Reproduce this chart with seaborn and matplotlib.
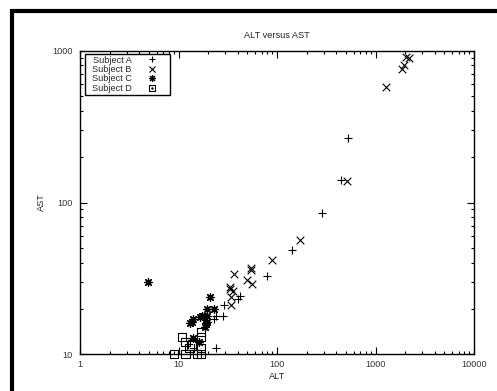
import pandas as pd
import matplotlib
matplotlib.use("Agg")
import matplotlib.pyplot as plt
import seaborn as sns
from matplotlib.patches import Rectangle
from matplotlib.legend_handler import HandlerTuple
from matplotlib.lines import Line2D

# values
a_alt = [522, 443, 284, 141, 80, 42, 40.5, 29, 28, 24, 23, 24, 16]
a_ast = [267, 141, 85, 49, 33, 24.2, 23.1, 21, 18, 18, 17, 11, 12]

b_alt = [2200, 2050, 1950, 1850, 1290, 510, 172, 89, 55, 54, 56, 50, 37, 36, 34, 34, 33, 33]
b_ast = [900, 910, 810, 760, 575, 139, 57, 42, 37, 36, 29, 31, 34, 26, 24, 21, 27.6, 26.8]

c_alt = [4.9, 20.7, 19.6, 22.8, 17.2, 18.2, 19.3, 16.5, 19.5, 19.0, 18.4, 13.9, 13.6, 13.1, 13.9, 16]
c_ast = [30, 24, 20, 20, 18, 18, 18, 17.5, 16.4, 16, 15.2, 17, 16.3, 16, 12.9, 12]

d_alt = [9, 11.8, 15.5, 16.8, 10.8, 11.8, 13.6, 13.9, 12.9, 16.9, 16.9, 16.9]
d_ast = [10, 10, 10, 10, 13, 12, 11.4, 11.7, 11, 14, 13, 11]

x_ticks = [1, 10, 100, 1000, 10000]
y_ticks = [10, 100, 1000]

sns.set_style("ticks")
plt.rcParams["font.family"] = ["Liberation Sans", "DejaVu Sans"]
plt.rcParams["font.size"] = 6.6
plt.rcParams["axes.linewidth"] = 1.0

fig = plt.figure(figsize=(4.97, 3.91), dpi=100)
ax = fig.add_axes([80 / 497, 1 - 354.3 / 391, 394 / 497, 303.6 / 391])

# outer frame (only left and top edges visible)
fig.patches.append(Rectangle((11.5 / 497, -0.2), 1.5, 1.2 - 11.5 / 391,
                             transform=fig.transFigure, fill=False,
                             edgecolor="black", linewidth=3))

ms = 30
sns.scatterplot(x=a_alt, y=a_ast, marker="+", color="black", s=ms, linewidth=0.8, ax=ax, clip_on=False)
sns.scatterplot(x=b_alt, y=b_ast, marker="x", color="black", s=ms, linewidth=0.8, ax=ax, clip_on=False)
sns.scatterplot(x=c_alt, y=c_ast, marker=(8, 2, 0), color="black", s=ms, linewidth=0.9, ax=ax, clip_on=False)
sns.scatterplot(x=d_alt, y=d_ast, marker="s", s=36, facecolor="none", edgecolor="black",
                linewidth=0.8, ax=ax, clip_on=False)
sns.scatterplot(x=d_alt, y=d_ast, marker=".", s=2, color="black", linewidth=0, ax=ax, clip_on=False)

ax.set_xscale("log")
ax.set_yscale("log")
ax.set_xlim(1, 10000)
ax.set_ylim(10, 1000)
ax.set_xticks(x_ticks, [str(v) for v in x_ticks])
ax.set_yticks(y_ticks, [str(v) for v in y_ticks])
ax.tick_params(which="both", direction="in", top=True, right=True, colors="black",
               labelcolor="#333333", width=0.8)
ax.tick_params(which="major", length=5, pad=5)
ax.tick_params(axis="x", which="major", pad=4)
ax.tick_params(which="minor", length=2.5)
for s in ax.spines.values():
    s.set_visible(True)
    s.set_color("black")

ax.set_title("ALT versus AST", fontsize=6.6, pad=9, color="#222222")
ax.set_xlabel("ALT", fontsize=6.6, labelpad=2, color="#222222")
ax.set_ylabel("AST", fontsize=6.6, labelpad=5, color="#222222")

mk = dict(color="black", linestyle="none", markersize=5, markeredgewidth=0.8)
h_a = Line2D([], [], marker="+", **mk)
h_b = Line2D([], [], marker="x", **mk)
h_c = Line2D([], [], marker=(8, 2, 0), **mk)
h_d1 = Line2D([], [], marker="s", markerfacecolor="none", markeredgecolor="black",
              linestyle="none", markersize=5, markeredgewidth=0.8)
h_d2 = Line2D([], [], marker=".", color="black", linestyle="none", markersize=1.5)
leg = ax.legend([h_a, h_b, h_c, (h_d1, h_d2)],
                ["  Subject A", "  Subject B", "  Subject C", "  Subject D"],
                handler_map={tuple: HandlerTuple(ndivide=1, pad=0)},
                loc="upper left", bbox_to_anchor=(0.012, 0.99), markerfirst=False,
                fontsize=6.6, frameon=True, fancybox=False, framealpha=1,
                edgecolor="black", handlelength=3.6, handletextpad=0.4,
                labelspacing=0.05, borderpad=0.2, borderaxespad=0)
leg.get_frame().set_linewidth(1.0)

fig.savefig("out.png", dpi=100)
